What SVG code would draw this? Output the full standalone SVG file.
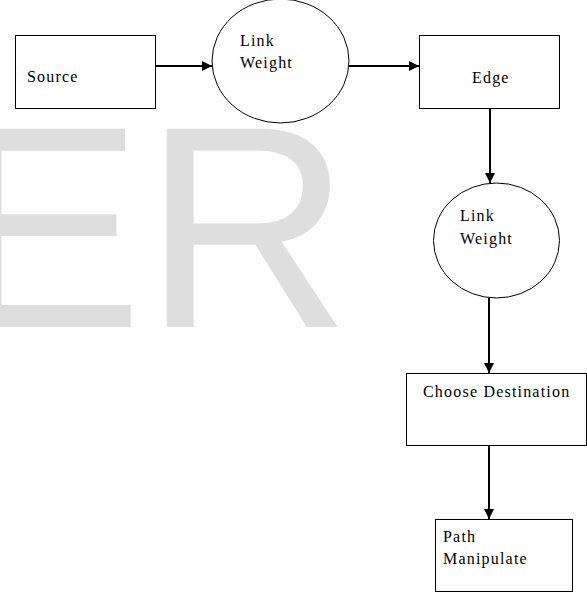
<svg xmlns="http://www.w3.org/2000/svg" width="587" height="593" viewBox="0 0 587 593">
<defs>
<style>
.box{fill:#fff;stroke:#000;stroke-width:1}
.ell{fill:#fff;stroke:#000;stroke-width:1}
.lbl{font-family:"Liberation Serif","Times New Roman",serif;font-size:16px;letter-spacing:1.2px;fill:#000}
.edge{stroke:#000;stroke-width:2;fill:none;marker-end:url(#arr)}
</style>
<marker id="arr" viewBox="0 0 10 10" refX="10" refY="5" markerWidth="5" markerHeight="5" orient="auto" markerUnits="strokeWidth">
<path d="M0,0 L10,5 L0,10 z" fill="#000"/>
</marker>
</defs>
<rect width="587" height="593" fill="#fff"/>
<text x="-49" y="327" font-family="'Liberation Sans',Arial,sans-serif" font-size="288" fill="#dedede">ER</text>
<g id="connectors">
<line class="edge" x1="155" y1="66" x2="212" y2="66"/>
<line class="edge" x1="349" y1="66" x2="419" y2="66"/>
<line class="edge" x1="490" y1="109" x2="490" y2="183"/>
<line class="edge" x1="489" y1="298" x2="489" y2="373"/>
<line class="edge" x1="489" y1="446" x2="489" y2="519"/>
</g>
<g id="source">
<rect class="box" x="15.5" y="35.5" width="140" height="73"/>
<text class="lbl" x="27" y="82">Source</text>
</g>
<g id="linkweight1">
<ellipse class="ell" cx="280.5" cy="61" rx="68.5" ry="62"/>
<text class="lbl" x="240" y="46">Link</text>
<text class="lbl" x="240" y="68">Weight</text>
</g>
<g id="edge">
<rect class="box" x="419.5" y="35.5" width="140" height="73"/>
<text class="lbl" x="472" y="83">Edge</text>
</g>
<g id="linkweight2">
<ellipse class="ell" cx="496.5" cy="240.5" rx="63" ry="57.5"/>
<text class="lbl" x="460" y="221">Link</text>
<text class="lbl" x="460" y="244">Weight</text>
</g>
<g id="choose">
<rect class="box" x="406.5" y="373.5" width="180" height="72"/>
<text class="lbl" x="423" y="397">Choose Destination</text>
</g>
<g id="path">
<rect class="box" x="435.5" y="519.5" width="137" height="72"/>
<text class="lbl" x="443" y="542">Path</text>
<text class="lbl" x="443" y="564">Manipulate</text>
</g>
</svg>
